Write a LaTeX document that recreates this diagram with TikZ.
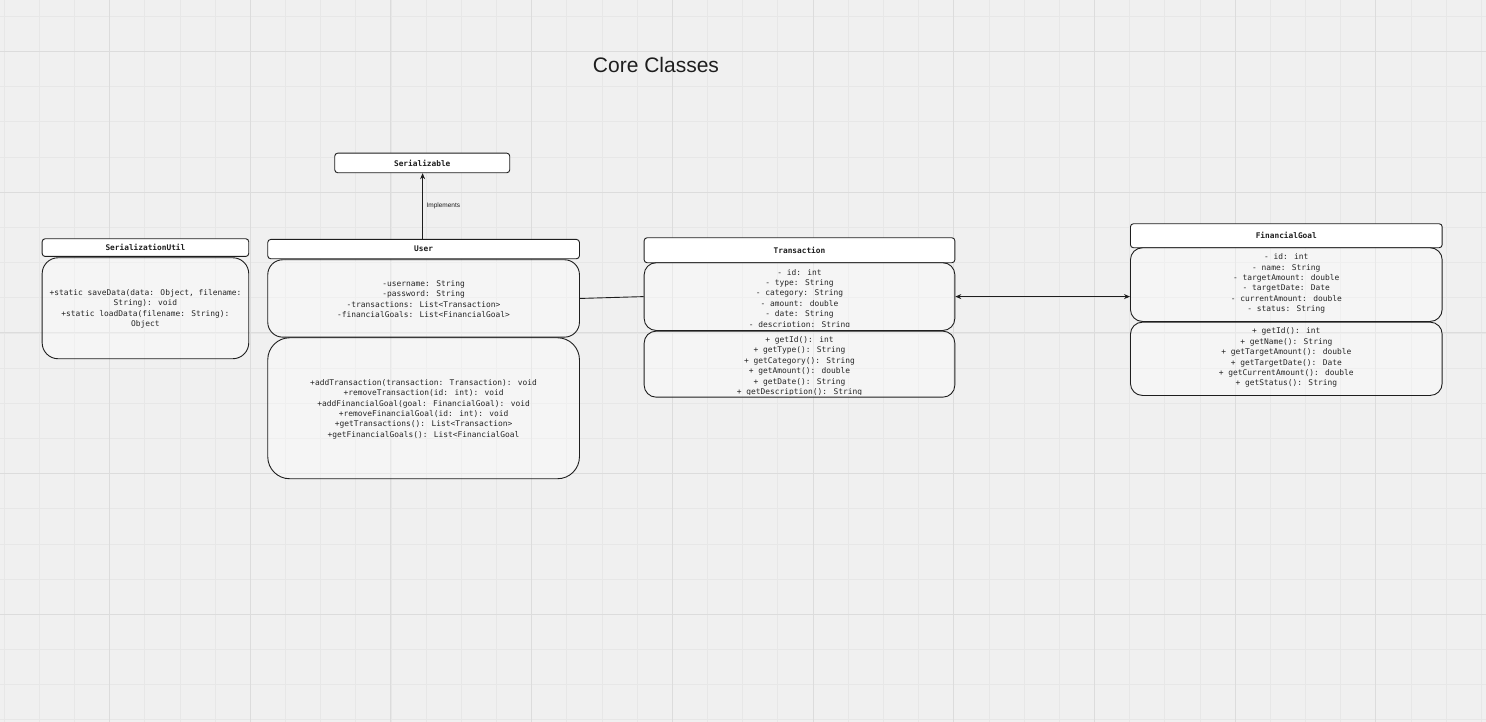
\documentclass[tikz,border=0pt]{standalone}
\usepackage{fontspec}
\setmainfont{Liberation Sans}
\newfontfamily\umlmono{DejaVu Sans Mono}
\usetikzlibrary{arrows.meta}
\definecolor{bgcol}{HTML}{F0F0F0}
\definecolor{gridminor}{HTML}{E7E7E7}
\definecolor{gridmajor}{HTML}{DCDCDC}
\definecolor{ink}{HTML}{1E1E1E}
\definecolor{txtcol}{HTML}{262626}
\begin{document}
\begin{tikzpicture}[x=1pt,y=-1pt,
  minorgrid/.style={draw=gridminor, line width=0.7pt},
  majorgrid/.style={draw=gridmajor, line width=0.9pt},
  hdr/.style={draw=ink, fill=white, rounded corners=3pt, line width=0.9pt, inner sep=0pt, anchor=north west,
    font=\umlmono\bfseries\fontsize{7.8}{9}\selectfont, text=ink},
  bodybox/.style={draw=ink, fill=white, fill opacity=0.35, draw opacity=1, line width=0.9pt, inner sep=0pt, anchor=north west},
  txt/.style={inner sep=0pt, align=center, font=\umlmono\fontsize{7.9}{10.4}\selectfont, text=txtcol},
  conn/.style={draw=ink, line width=0.9pt},
  tip/.style={-{Stealth[length=6pt,width=5pt]}},
  bitip/.style={{Stealth[length=6pt,width=5pt]}-{Stealth[length=6pt,width=5pt]}}
]
% background and grid
\fill[bgcol] (0,0) rectangle (1486,722);
\useasboundingbox (0,0) rectangle (1486,722);
\foreach \i in {0,...,42} {\draw[minorgrid] ({3.975+35.175*\i},0) -- ({3.975+35.175*\i},722);}
\foreach \j in {0,...,20} {\draw[minorgrid] (0,{16.3+35.175*\j}) -- (1486,{16.3+35.175*\j});}
\foreach \i in {0,...,10} {\draw[majorgrid] ({109.5+140.7*\i},0) -- ({109.5+140.7*\i},722);}
\foreach \j in {0,...,4} {\draw[majorgrid] (0,{51.5+140.7*\j}) -- (1486,{51.5+140.7*\j});}

% title
\node[text=ink, font=\fontsize{21}{25}\selectfont] (title) at (656,64.5) {Core Classes};

% Serializable
\node[hdr, minimum width=175pt, minimum height=19.6pt] (ser) at (334.3,152.7) {Serializable};

% SerializationUtil
\node[hdr, minimum width=206.6pt, minimum height=17.7pt] (suh) at (41.7,238.3) {SerializationUtil};
\node[bodybox, rounded corners=16pt, minimum width=206.6pt, minimum height=101pt] (sub) at (41.7,257.3) {};
\node[txt] (subt) at ([yshift=-0.5pt]sub.center) {+static saveData(data: Object, filename:\\String): void\\+static loadData(filename: String):\\Object};

% User
\node[hdr, minimum width=311.7pt, minimum height=19.3pt] (uh) at (267.3,239) {User};
\node[bodybox, rounded corners=15pt, minimum width=311.7pt, minimum height=77.4pt] (uattr) at (267.3,259.3) {};
\node[txt] (uattrt) at ([yshift=-0.5pt]uattr.center) {-username: String\\-password: String\\-transactions: List<Transaction>\\-financialGoals: List<FinancialGoal>};
\node[bodybox, rounded corners=22pt, minimum width=311.7pt, minimum height=141pt] (umeth) at (267.3,337.3) {};
\node[txt] (umetht) at ([yshift=-0.8pt]umeth.center) {+addTransaction(transaction: Transaction): void\\+removeTransaction(id: int): void\\+addFinancialGoal(goal: FinancialGoal): void\\+removeFinancialGoal(id: int): void\\+getTransactions(): List<Transaction>\\+getFinancialGoals(): List<FinancialGoal};

% Transaction
\node[hdr, minimum width=310.7pt, minimum height=25pt] (th) at (643.7,237.3) {Transaction};
\node[bodybox, rounded corners=12pt, minimum width=310.7pt, minimum height=67.7pt] (tattr) at (643.7,262.3) {};
\begin{scope}
  \clip (643.7,262.3) rectangle (954.4,326.4);
  \node[txt] (tattrt) at ([yshift=-2.4pt]tattr.center) {- id: int\\- type: String\\- category: String\\- amount: double\\- date: String\\- description: String};
\end{scope}
\node[bodybox, rounded corners=12pt, minimum width=310.7pt, minimum height=66pt] (tmeth) at (643.7,330.7) {};
\begin{scope}
  \clip (643.7,330.7) rectangle (954.4,394.4);
  \node[txt] (tmetht) at ([yshift=-2.2pt]tmeth.center) {+ getId(): int\\+ getType(): String\\+ getCategory(): String\\+ getAmount(): double\\+ getDate(): String\\+ getDescription(): String};
\end{scope}

% FinancialGoal
\node[hdr, minimum width=311.7pt, minimum height=24pt] (fh) at (1130,223.3) {FinancialGoal};
\node[bodybox, rounded corners=12pt, minimum width=311.7pt, minimum height=73.7pt] (fattr) at (1130,247.3) {};
\node[txt] (fattrt) at ([yshift=1.0pt]fattr.center) {- id: int\\- name: String\\- targetAmount: double\\- targetDate: Date\\- currentAmount: double\\- status: String};
\node[bodybox, rounded corners=12pt, minimum width=311.7pt, minimum height=73.3pt] (fmeth) at (1130,321.7) {};
\node[txt] (fmetht) at ([yshift=1.0pt]fmeth.center) {+ getId(): int\\+ getName(): String\\+ getTargetAmount(): double\\+ getTargetDate(): Date\\+ getCurrentAmount(): double\\+ getStatus(): String};

% connectors
\draw[conn, tip] ([xshift=-1pt]uh.north) -- ([xshift=-1pt]uh.north |- ser.south)
  node[midway, anchor=west, inner sep=0pt, xshift=3.5pt, font=\fontsize{6.5}{7}\selectfont, text=ink] (impl) {Implements};
\draw[conn] (uattr.east) -- (tattr.west);
\draw[conn, bitip] (tattr.east) -- (fattr.west |- tattr.east);
\end{tikzpicture}
\end{document}
